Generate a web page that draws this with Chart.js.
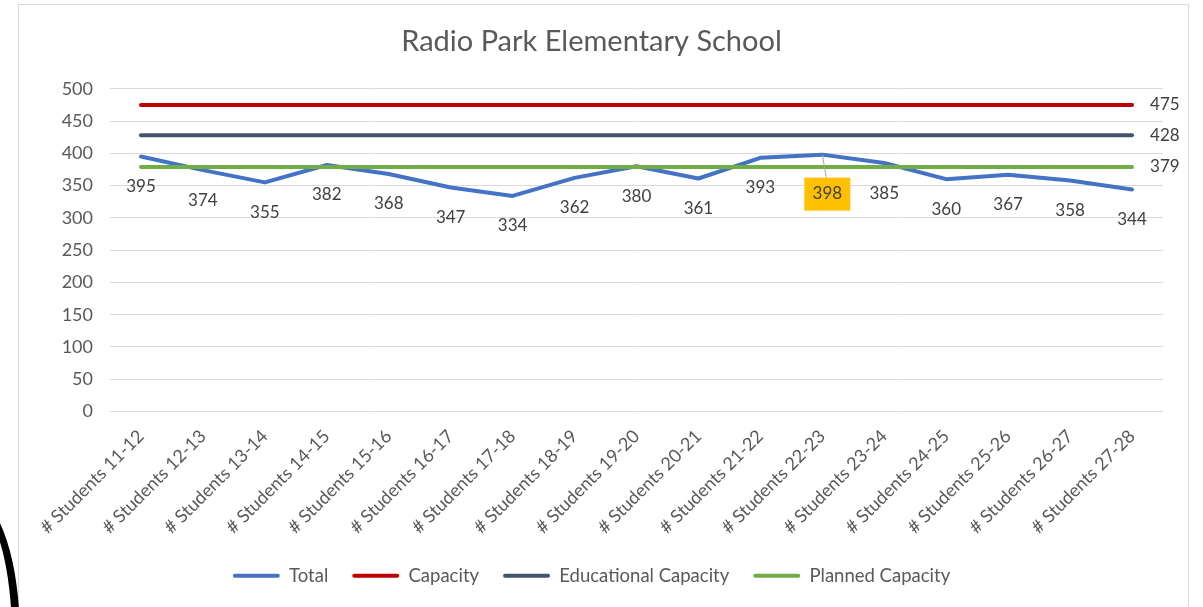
<!DOCTYPE html>
<html>
<head>
<meta charset="utf-8">
<script src="https://cdn.jsdelivr.net/npm/chart.js@4.4.1/dist/chart.umd.min.js"></script>
<style>
  html, body { margin: 0; padding: 0; background: #fff; overflow: hidden; }
  #wrap { position: relative; width: 1203px; height: 607px; }
  #frame { position: absolute; left: 18px; top: 4px; width: 1169px; height: 640px; border: 1px solid #D9D9D9; }
  #blob { position: absolute; left: -70px; top: 500px; width: 74px; height: 260px; border-radius: 50%; border: 8px solid #000; }
  canvas { position: absolute; left: 0; top: 0; }
</style>
</head>
<body>
<div id="wrap">
  <div id="frame"></div>
  <div id="blob"></div>
  <canvas id="chart" width="1203" height="607"></canvas>
</div>
<script>
// chart data
const categories = [
  "# Students 11-12", "# Students 12-13", "# Students 13-14", "# Students 14-15",
  "# Students 15-16", "# Students 16-17", "# Students 17-18", "# Students 18-19",
  "# Students 19-20", "# Students 20-21", "# Students 21-22", "# Students 22-23",
  "# Students 23-24", "# Students 24-25", "# Students 25-26", "# Students 26-27",
  "# Students 27-28"
];
const total = [395, 374, 355, 382, 368, 347, 334, 362, 380, 361, 393, 398, 385, 360, 367, 358, 344];
const capacity = [475, 475, 475, 475, 475, 475, 475, 475, 475, 475, 475, 475, 475, 475, 475, 475, 475];
const educationalCapacity = [428, 428, 428, 428, 428, 428, 428, 428, 428, 428, 428, 428, 428, 428, 428, 428, 428];
const plannedCapacity = [379, 379, 379, 379, 379, 379, 379, 379, 379, 379, 379, 379, 379, 379, 379, 379, 379];
const yTicks = [0, 50, 100, 150, 200, 250, 300, 350, 400, 450, 500];
const highlightIndex = 11;

const FONT = "Lato";
const TEXT = "#595959";

// labels under the Total line, plus end labels for the flat lines
const labelPlugin = {
  id: "pointLabels",
  afterDatasetsDraw(chart) {
    const ctx = chart.ctx;
    ctx.save();
    ctx.font = "17px " + FONT;
    ctx.fillStyle = "#404040";
    ctx.textBaseline = "middle";

    const meta = chart.getDatasetMeta(0);
    meta.data.forEach((pt, i) => {
      const txt = String(total[i]);
      if (i === highlightIndex) {
        const cx = pt.x + 5, cy = pt.y + 39;
        ctx.strokeStyle = "#A6A6A6";
        ctx.lineWidth = 1;
        ctx.beginPath();
        ctx.moveTo(pt.x, pt.y);
        ctx.lineTo(cx - 1, cy - 16);
        ctx.stroke();
        ctx.fillStyle = "#FFC000";
        ctx.fillRect(cx - 23, cy - 16, 46, 33);
        ctx.fillStyle = "#404040";
      }
      ctx.textAlign = "center";
      const dy = i === highlightIndex ? 39 : 30;
      const dx = i === highlightIndex ? 5 : 0;
      ctx.fillText(txt, pt.x + dx, pt.y + dy);
    });

    [1, 2, 3].forEach(di => {
      const m = chart.getDatasetMeta(di);
      const last = m.data[m.data.length - 1];
      const val = chart.data.datasets[di].data[m.data.length - 1];
      ctx.textAlign = "left";
      ctx.fillText(String(val), last.x + 18, last.y);
    });
    ctx.restore();
  }
};

function series(label, data, color, order) {
  return {
    label, data, order,
    borderColor: color, backgroundColor: color,
    borderWidth: 4, borderCapStyle: "round", borderJoinStyle: "round",
    pointRadius: 0, pointHoverRadius: 0, tension: 0
  };
}

new Chart(document.getElementById("chart"), {
  type: "line",
  data: {
    labels: categories,
    datasets: [
      series("Total", total, "#4472C4", 3),
      series("Capacity", capacity, "#C00000", 2),
      series("Educational Capacity", educationalCapacity, "#44546A", 1),
      series("Planned Capacity", plannedCapacity, "#70AD47", 0)
    ]
  },
  options: {
    responsive: false,
    animation: false,
    layout: { padding: { left: 20, right: 40, top: 4, bottom: 12 } },
    plugins: {
      tooltip: { enabled: false },
      title: {
        display: true,
        text: "Radio Park Elementary School",
        color: TEXT,
        font: { family: FONT, size: 29, weight: "normal" },
        padding: { top: 20, bottom: 30 }
      },
      legend: {
        position: "bottom",
        labels: {
          color: TEXT,
          font: { family: FONT, size: 18.5 },
          boxWidth: 47,
          boxHeight: 4,
          padding: 24,
          sort: (a, b) => a.datasetIndex - b.datasetIndex,
          generateLabels(chart) {
            return Chart.defaults.plugins.legend.labels.generateLabels(chart)
              .map(l => Object.assign(l, { lineWidth: 0, borderRadius: 2 }));
          }
        }
      }
    },
    scales: {
      x: {
        offset: true,
        grid: { display: false },
        border: { display: false },
        ticks: {
          color: TEXT, font: { family: FONT, size: 18 },
          maxRotation: 45, minRotation: 45, autoSkip: false, padding: 6
        },
        afterFit(scale) { scale.height = 131; }
      },
      y: {
        min: 0, max: 500,
        afterBuildTicks(scale) { scale.ticks = yTicks.map(v => ({ value: v })); },
        grid: { color: "#D9D9D9", lineWidth: 1, drawTicks: false },
        border: { display: false },
        ticks: { color: TEXT, font: { family: FONT, size: 18 }, padding: 17 },
        afterFit(scale) { scale.width = 90; }
      }
    }
  },
  plugins: [labelPlugin]
});
</script>
</body>
</html>
